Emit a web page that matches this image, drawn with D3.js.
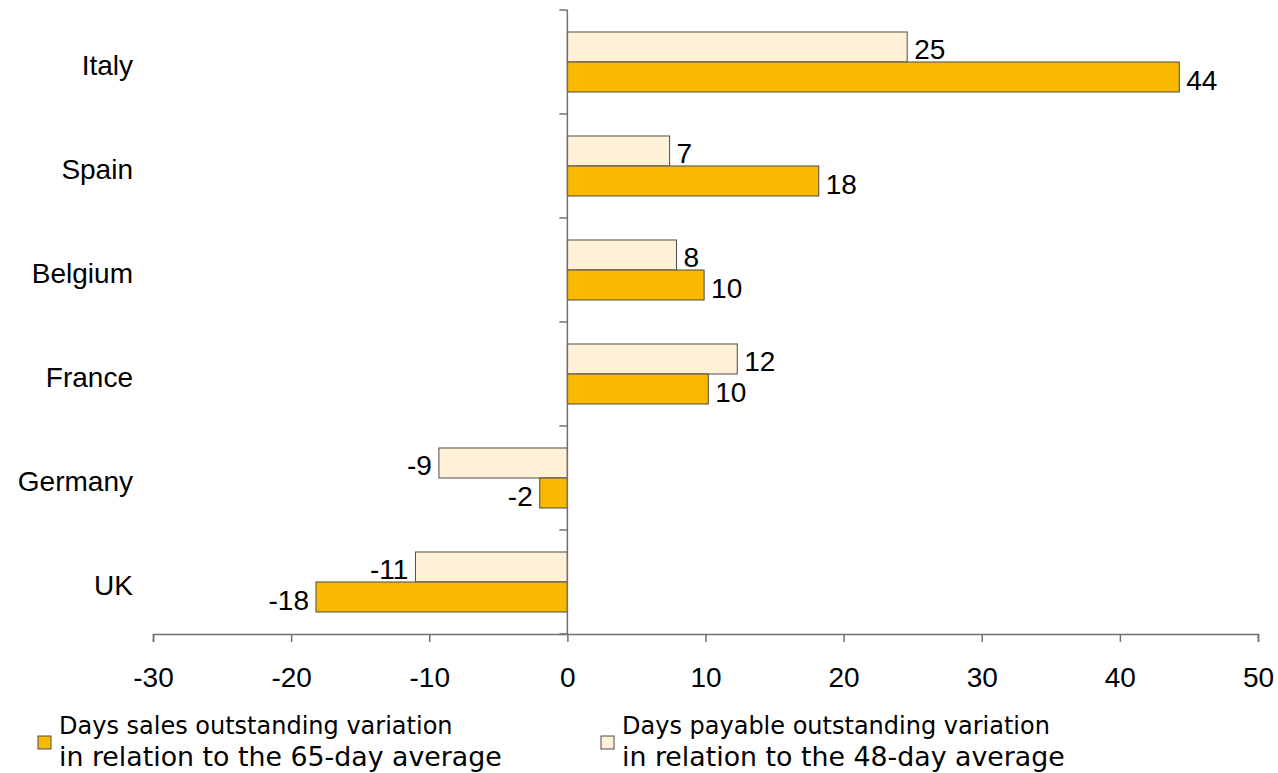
<!DOCTYPE html>
<html>
<head>
<meta charset="utf-8">
<script src="https://cdn.jsdelivr.net/npm/d3@7"></script>
<style>
  html, body { margin: 0; padding: 0; background: #fff; }
  svg { display: block; }
</style>
</head>
<body>
<svg id="chart" width="1278" height="773"></svg>
<script>
// Countries, top to bottom
const countries = ["Italy", "Spain", "Belgium", "France", "Germany", "UK"];
// Days sales outstanding variation vs 65-day average
const salesVariation = [44.3, 18.2, 9.9, 10.2, -2.0, -18.2];
// Days payable outstanding variation vs 48-day average
const payableVariation = [24.6, 7.4, 7.9, 12.3, -9.3, -11.0];
// Axis ticks
const xTicks = [-30, -20, -10, 0, 10, 20, 30, 40, 50];
const legendLabels = [
  ["Days sales outstanding variation", "in relation to the 65-day average"],
  ["Days payable outstanding variation", "in relation to the 48-day average"]
];

const darkFill = "#F9B900";
const lightFill = "#FFF1D7";
const barStroke = "#4a4a4a";
const axisColor = "#707070";
const labelFont = "'Liberation Sans', Arial, sans-serif";
const legendFont = "'DejaVu Sans', Verdana, sans-serif";

const svg = d3.select("#chart");

const x = d3.scaleLinear().domain([-30, 50]).range([153, 1258]);
const y = d3.scaleBand().domain(countries).range([10, 634]).paddingInner(0.423).paddingOuter(0.2115);
const step = y.step();
const half = y.bandwidth() / 2;

const rows = countries.map((c, i) => ({ c, sales: salesVariation[i], payable: payableVariation[i] }));
// plain hyphen for negatives
const fmt = v => String(Math.round(v));

// Bars: payable on top (light), sales below (dark)
const g = svg.append("g");
const series = [
  { key: "payable", fill: lightFill, off: 0 },
  { key: "sales", fill: darkFill, off: half }
];
series.forEach(s => {
  g.selectAll(null).data(rows).enter().append("rect")
    .attr("x", d => x(Math.min(0, d[s.key])))
    .attr("y", d => y(d.c) + s.off)
    .attr("width", d => Math.abs(x(d[s.key]) - x(0)))
    .attr("height", half)
    .attr("fill", s.fill)
    .attr("stroke", barStroke)
    .attr("stroke-width", 1);

  g.selectAll(null).data(rows).enter().append("text")
    .attr("x", d => d[s.key] >= 0 ? x(d[s.key]) + 7 : x(d[s.key]) - 7)
    .attr("y", d => y(d.c) + s.off + half / 2 + 12.5)
    .attr("text-anchor", d => d[s.key] >= 0 ? "start" : "end")
    .attr("font-family", labelFont)
    .attr("font-size", 28)
    .attr("fill", "#000")
    .text(d => fmt(d[s.key]));
});

// X axis
const xAxis = svg.append("g")
  .attr("transform", "translate(0,634)")
  .call(d3.axisBottom(x).tickValues(xTicks).tickSize(8).tickPadding(25).tickFormat(fmt));
xAxis.select(".domain").attr("stroke", axisColor).attr("stroke-width", 1.5);
xAxis.selectAll(".tick line").attr("stroke", axisColor).attr("stroke-width", 1.5);
xAxis.selectAll(".tick text")
  .attr("font-family", labelFont).attr("font-size", 28).attr("fill", "#000");

// Vertical zero axis with ticks at band boundaries
const boundaries = d3.range(countries.length + 1).map(i => 10 + i * step);
svg.append("line")
  .attr("x1", x(0)).attr("x2", x(0))
  .attr("y1", boundaries[0]).attr("y2", boundaries[boundaries.length - 1])
  .attr("stroke", axisColor).attr("stroke-width", 1.5);
svg.selectAll(null).data(boundaries).enter().append("line")
  .attr("x1", x(0) - 8).attr("x2", x(0))
  .attr("y1", d => d).attr("y2", d => d)
  .attr("stroke", axisColor).attr("stroke-width", 1.5);

// Category labels
svg.selectAll(null).data(countries).enter().append("text")
  .attr("x", 133)
  .attr("y", d => y(d) + half + 13)
  .attr("text-anchor", "end")
  .attr("font-family", labelFont)
  .attr("font-size", 28)
  .attr("fill", "#000")
  .text(d => d);

// Legend
const legendX = [38, 601];
const legendFills = [darkFill, lightFill];
legendLabels.forEach((lines, i) => {
  const lg = svg.append("g").attr("transform", `translate(${legendX[i]},0)`);
  lg.append("rect")
    .attr("x", 0).attr("y", 736).attr("width", 13).attr("height", 13)
    .attr("fill", legendFills[i]).attr("stroke", barStroke).attr("stroke-width", 1);
  lg.append("text")
    .attr("x", 21).attr("y", 734)
    .attr("font-family", legendFont).attr("font-size", 24).attr("fill", "#000")
    .text(lines[0]);
  lg.append("text")
    .attr("x", 21).attr("y", 766)
    .attr("font-family", legendFont).attr("font-size", 26.8).attr("fill", "#000")
    .text(lines[1]);
});
</script>
</body>
</html>
